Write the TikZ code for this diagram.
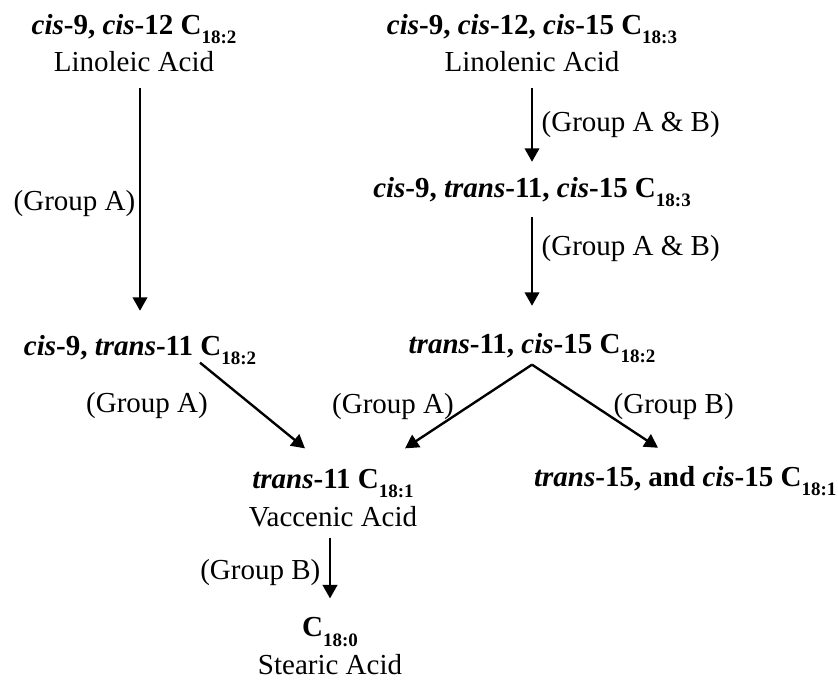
\documentclass[tikz,border=0pt]{standalone}
\usepackage{fontspec}
\setmainfont{Liberation Serif}
\usetikzlibrary{arrows.meta,calc}

\newcommand{\cchain}[1]{C\raisebox{-0.32em}{\fontsize{10.8}{10.8}\selectfont #1}}
\newcommand{\cis}{\textit{cis}}
\newcommand{\trans}{\textit{trans}}

\tikzset{
  acid/.style={align=center, inner sep=1pt, font=\fontsize{16.5}{21.3}\selectfont},
  grp/.style={inner sep=2pt, font=\fontsize{16.5}{21.3}\selectfont},
  conv/.style={-{Triangle[length=2.7mm,width=2.9mm]}, line width=1.35pt},
}

\begin{document}
\begin{tikzpicture}[x=0.2mm,y=-0.2mm]
\useasboundingbox (0,0) rectangle (838,682);

% starting acids
\node[acid] (lino) at (134,43) {\textbf{\cis-9, \cis-12 \cchain{18:2}}\\Linoleic Acid};
\node[acid] (linolen) at (532,43) {\textbf{\cis-9, \cis-12, \cis-15 \cchain{18:3}}\\Linolenic Acid};

% intermediates
\node[acid, anchor=base] (c9t11c15) at (532,197) {\textbf{\cis-9, \trans-11, \cis-15 \cchain{18:3}}};
\node[acid, anchor=base] (c9t11) at (140,355) {\textbf{\cis-9, \trans-11 \cchain{18:2}}};
\node[acid, anchor=base] (t11c15) at (532,353) {\textbf{\trans-11, \cis-15 \cchain{18:2}}};

% end products
\node[acid] (vacc) at (333,498) {\textbf{\trans-11 \cchain{18:1}}\\Vaccenic Acid};
\node[acid, anchor=base west] (t15) at (532,486) {\textbf{\trans-15, and \cis-15 \cchain{18:1}}};
\node[acid] (stear) at (330,646) {\textbf{\cchain{18:0}}\\Stearic Acid};

% conversions
\draw[conv, shorten <=2.8mm, shorten >=4.4mm] (lino.south -| c9t11.north) -- node[grp, left] {(Group A)} (c9t11.north);
\draw[conv, shorten <=2.8mm, shorten >=2.6mm] (linolen.south) -- node[grp, right, xshift=1mm] {(Group A \& B)} (c9t11c15.north);
\draw[conv, shorten <=1.6mm, shorten >=5mm] (c9t11c15.south) -- node[grp, right, pos=0.33, xshift=1mm] {(Group A \& B)} (t11c15.north);

\draw[conv] ($(c9t11.south)+(60,-4)$) -- node[grp, left, xshift=-8mm] {(Group A)} ($(vacc.north)+(-28,-19)$);
\draw[conv] (t11c15.south) -- node[grp, left, xshift=-2mm] {(Group A)} ($(vacc.north)+(72,-19)$);
\draw[conv] (t11c15.south) -- node[grp, right, xshift=2.8mm] {(Group B)} ($(t15.north west)+(126,-16)$);

\draw[conv, shorten <=1.8mm, shorten >=3.4mm] (vacc.south -| stear.north) -- node[grp, left, xshift=-1mm] {(Group B)} (stear.north);

\end{tikzpicture}
\end{document}
